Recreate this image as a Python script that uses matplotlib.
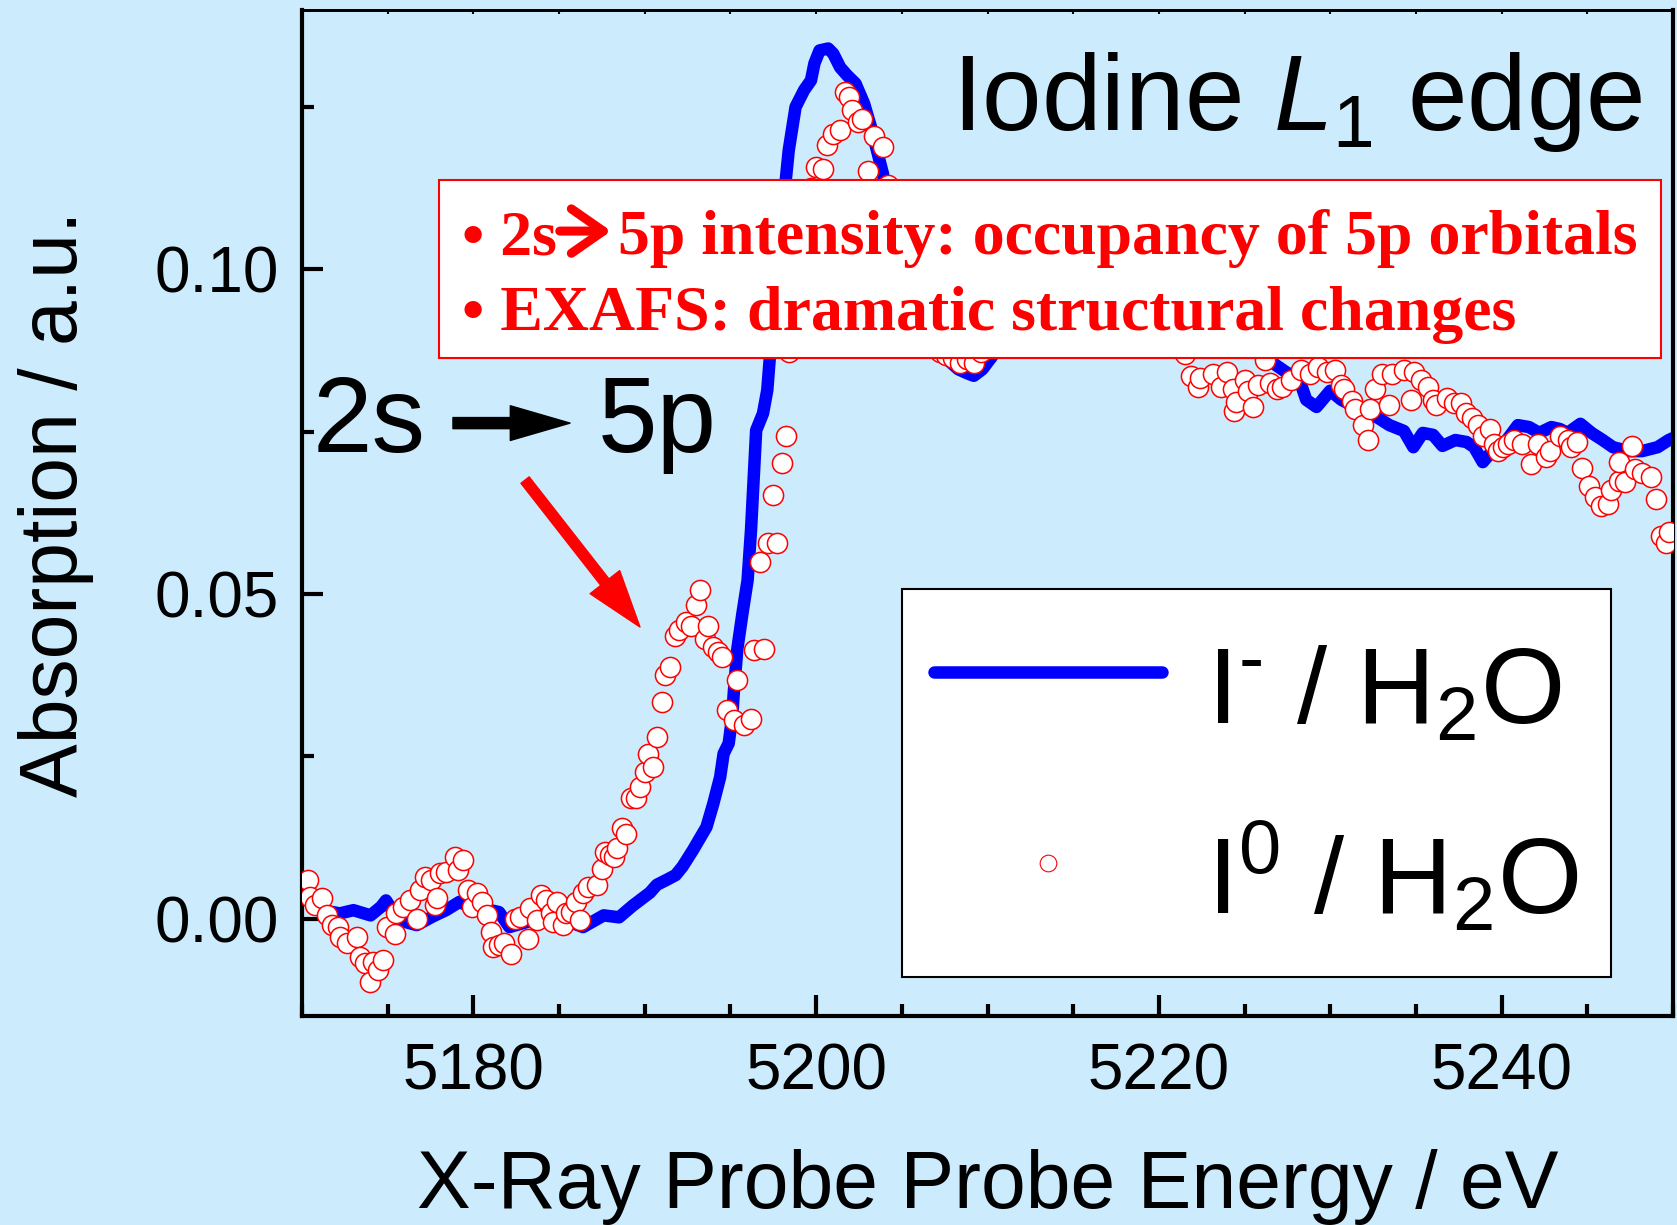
import matplotlib
matplotlib.use("Agg")
import matplotlib.pyplot as plt
from matplotlib.lines import Line2D
from matplotlib.patches import Rectangle
from matplotlib.ticker import MultipleLocator

plt.rcParams['font.family'] = ['Liberation Sans', 'DejaVu Sans']
plt.rcParams['mathtext.fontset'] = 'custom'
plt.rcParams['mathtext.rm'] = 'Liberation Sans'
plt.rcParams['mathtext.it'] = 'Liberation Sans:italic'
plt.rcParams['mathtext.bf'] = 'Liberation Sans:bold'

BG = '#CCEBFC'

# I- / H2O spectrum (eV, absorption)
iodide_energy = [
    5170.0, 5170.5, 5171.2, 5172.2, 5173.0, 5174.0, 5174.6, 5174.9, 5175.5, 5176.0,
    5176.7, 5177.6, 5178.4, 5179.2, 5179.9, 5181.0, 5181.5, 5182.1, 5182.9, 5184.1,
    5185.0, 5185.8, 5186.4, 5187.6, 5188.5, 5189.3, 5190.3, 5190.7, 5191.3, 5191.8,
    5192.2, 5192.8, 5193.6, 5194.0, 5194.4, 5194.6, 5194.9, 5195.1, 5195.2, 5195.4,
    5195.7, 5196.0, 5196.2, 5196.35, 5196.5, 5196.9, 5197.15, 5197.3, 5197.6, 5197.9,
    5198.2, 5198.4, 5198.8, 5199.3, 5199.7, 5199.9, 5200.2, 5200.7, 5201.0, 5201.4,
    5201.8, 5202.3, 5202.8, 5203.2, 5203.6, 5203.9, 5204.3, 5204.8, 5205.3, 5205.8,
    5206.4, 5207.0, 5207.7, 5208.3, 5208.8, 5209.2, 5209.7, 5210.5, 5211.2, 5212.0,
    5213.0, 5214.0, 5215.0, 5216.0, 5217.0, 5218.0, 5219.0, 5220.0, 5221.0, 5222.0,
    5223.0, 5224.0, 5225.0, 5226.0, 5226.8, 5227.4, 5228.2, 5228.6, 5229.2, 5230.0,
    5230.65, 5231.3, 5231.9, 5232.8, 5233.45, 5234.3, 5234.85, 5235.4, 5236.0, 5236.55,
    5237.3, 5237.95, 5238.4, 5238.9, 5239.45, 5240.3, 5240.95, 5241.6, 5242.2, 5242.9,
    5243.4, 5243.85, 5244.6, 5245.25, 5245.9, 5246.5, 5247.4, 5248.2, 5249.1, 5249.75,
    5250.0,
]
iodide_abs = [
    0.0045, 0.0030, 0.0013, 0.0008, 0.0013, 0.0005, 0.0018, 0.0028, 0.0003, -0.0005,
    -0.0010, 0.0003, 0.0013, 0.0026, 0.0016, 0.0013, 0.0010, -0.0013, -0.0007, 0.0003,
    -0.0002, -0.0007, -0.0013, 0.0005, 0.0002, 0.0020, 0.0040, 0.0052, 0.0060, 0.0067,
    0.0080, 0.0105, 0.0141, 0.0177, 0.0218, 0.0254, 0.0270, 0.0311, 0.0350, 0.0415,
    0.0470, 0.0521, 0.0598, 0.0675, 0.0752, 0.0778, 0.0814, 0.0865, 0.0930, 0.1030,
    0.1130, 0.1183, 0.1250, 0.1276, 0.1291, 0.1317, 0.1337, 0.1340, 0.1332, 0.1311,
    0.1299, 0.1286, 0.1255, 0.1219, 0.1178, 0.1147, 0.1080, 0.1010, 0.0950, 0.0910,
    0.0885, 0.0870, 0.0860, 0.0846, 0.0840, 0.0836, 0.0846, 0.0874, 0.0890, 0.0905,
    0.0915, 0.0925, 0.0930, 0.0928, 0.0932, 0.0925, 0.0918, 0.0915, 0.0905, 0.0900,
    0.0895, 0.0885, 0.0880, 0.0870, 0.0853, 0.0842, 0.0830, 0.0799, 0.0788, 0.0813,
    0.0799, 0.0790, 0.0782, 0.0771, 0.0760, 0.0751, 0.0726, 0.0748, 0.0745, 0.0728,
    0.0737, 0.0734, 0.0726, 0.0703, 0.0720, 0.0737, 0.0760, 0.0757, 0.0748, 0.0757,
    0.0754, 0.0748, 0.0762, 0.0748, 0.0737, 0.0726, 0.0720, 0.0720, 0.0726, 0.0737,
    0.0740,
]

# I0 / H2O spectrum (eV, absorption)
iodine_energy = [
    5170.37, 5170.47, 5170.76, 5171.15, 5171.44, 5171.73, 5172.10, 5172.20, 5172.60, 5173.20,
    5173.40, 5173.70, 5173.96, 5174.15, 5174.45, 5174.74, 5174.93, 5175.40, 5175.50, 5175.90,
    5176.30, 5176.70, 5176.90, 5177.20, 5177.50, 5177.75, 5177.85, 5178.04, 5178.40, 5178.90,
    5179.10, 5179.40, 5179.70, 5179.90, 5180.20, 5180.50, 5180.80, 5181.00, 5181.15, 5181.50,
    5181.80, 5182.20, 5182.40, 5182.70, 5183.20, 5183.30, 5183.70, 5183.97, 5184.26, 5184.55,
    5184.65, 5184.85, 5185.20, 5185.40, 5185.70, 5186.00, 5186.20, 5186.40, 5186.70, 5187.20,
    5187.50, 5187.70, 5187.95, 5188.20, 5188.40, 5188.70, 5188.90, 5189.20, 5189.50, 5189.70,
    5190.00, 5190.20, 5190.50, 5190.70, 5191.00, 5191.20, 5191.45, 5191.75, 5192.00, 5192.40,
    5192.70, 5193.00, 5193.20, 5193.50, 5193.70, 5194.00, 5194.30, 5194.50, 5194.80, 5195.20,
    5195.40, 5195.80, 5196.20, 5196.40, 5196.70, 5196.97, 5197.20, 5197.50, 5197.70, 5198.00,
    5198.25, 5198.40, 5198.70, 5199.00, 5199.30, 5199.70, 5200.00, 5200.40, 5200.65, 5201.00,
    5201.40, 5201.70, 5201.90, 5202.10, 5202.45, 5202.70, 5203.00, 5203.40, 5203.90, 5204.20,
    5204.50, 5204.80, 5205.10, 5205.40, 5205.70, 5206.00, 5206.30, 5206.60, 5206.90, 5207.20,
    5207.60, 5208.00, 5208.40, 5208.80, 5209.20, 5209.60, 5210.00, 5210.40, 5210.80, 5211.20,
    5211.60, 5212.00, 5212.40, 5212.80, 5213.20, 5213.60, 5214.00, 5214.40, 5214.80, 5215.20,
    5215.60, 5216.00, 5216.40, 5216.80, 5217.20, 5217.60, 5218.00, 5218.40, 5218.80, 5219.20,
    5219.60, 5220.00, 5220.40, 5220.80, 5221.20, 5221.50, 5221.90, 5222.30, 5222.40, 5223.15,
    5223.60, 5224.00, 5224.35, 5224.40, 5224.50, 5225.00, 5225.20, 5225.50, 5225.80, 5226.20,
    5226.50, 5226.90, 5227.20, 5227.70, 5228.30, 5228.80, 5229.30, 5229.80, 5230.30, 5230.60,
    5230.80, 5231.25, 5231.45, 5231.90, 5232.20, 5232.30, 5232.60, 5233.00, 5233.40, 5233.60,
    5234.30, 5234.70, 5234.90, 5235.30, 5235.70, 5236.00, 5236.20, 5236.80, 5237.20, 5237.65,
    5237.95, 5238.30, 5238.60, 5238.90, 5239.30, 5239.55, 5239.80, 5240.10, 5240.40, 5240.70,
    5241.20, 5241.70, 5242.10, 5242.60, 5242.80, 5243.40, 5243.85, 5244.05, 5244.40, 5244.70,
    5245.10, 5245.45, 5245.80, 5246.20, 5246.40, 5246.85, 5246.85, 5247.20, 5247.60, 5247.80,
    5248.20, 5248.70, 5249.00, 5249.30, 5249.60, 5249.75,
]
iodine_abs = [
    0.0059, 0.0034, 0.0021, 0.0031, 0.0005, -0.0010, -0.0013, -0.0028, -0.0038, -0.0028,
    -0.0059, -0.0069, -0.0097, -0.0067, -0.0079, -0.0064, -0.0013, -0.0023, 0.0008, 0.0018,
    0.0028, 0.0000, 0.0044, 0.0064, 0.0059, 0.0021, 0.0031, 0.0070, 0.0072, 0.0095,
    0.0075, 0.0090, 0.0044, 0.0018, 0.0039, 0.0026, 0.0005, -0.0020, -0.0043, -0.0041,
    -0.0038, -0.0054, 0.0000, 0.0003, -0.0031, 0.0016, -0.0002, 0.0036, 0.0028, 0.0008,
    -0.0005, 0.0026, -0.0010, 0.0008, 0.0010, 0.0026, -0.0002, 0.0039, 0.0049, 0.0052,
    0.0077, 0.0103, 0.0098, 0.0095, 0.0108, 0.0139, 0.0131, 0.0185, 0.0185, 0.0203,
    0.0226, 0.0254, 0.0234, 0.0279, 0.0333, 0.0375, 0.0388, 0.0435, 0.0444, 0.0457,
    0.0450, 0.0483, 0.0506, 0.0431, 0.0450, 0.0418, 0.0411, 0.0403, 0.0321, 0.0306,
    0.0368, 0.0298, 0.0308, 0.0413, 0.0549, 0.0415, 0.0578, 0.0653, 0.0578, 0.0701,
    0.0744, 0.0873, 0.0960, 0.1030, 0.1090, 0.1125, 0.1158, 0.1155, 0.1191, 0.1209,
    0.1214, 0.1273, 0.1265, 0.1245, 0.1227, 0.1232, 0.1152, 0.1206, 0.1188, 0.1130,
    0.1090, 0.1050, 0.1010, 0.0980, 0.0950, 0.0925, 0.0905, 0.0890, 0.0880, 0.0872,
    0.0868, 0.0864, 0.0855, 0.0862, 0.0855, 0.0872, 0.0885, 0.0895, 0.0905, 0.0900,
    0.0915, 0.0920, 0.0910, 0.0925, 0.0930, 0.0920, 0.0935, 0.0940, 0.0930, 0.0945,
    0.0935, 0.0940, 0.0950, 0.0935, 0.0940, 0.0930, 0.0935, 0.0920, 0.0925, 0.0910,
    0.0915, 0.0900, 0.0905, 0.0890, 0.0880, 0.0870, 0.0836, 0.0819, 0.0832, 0.0839,
    0.0819, 0.0842, 0.0816, 0.0782, 0.0796, 0.0830, 0.0813, 0.0788, 0.0822, 0.0860,
    0.0825, 0.0816, 0.0819, 0.0830, 0.0845, 0.0839, 0.0850, 0.0842, 0.0845, 0.0822,
    0.0816, 0.0797, 0.0785, 0.0760, 0.0737, 0.0785, 0.0816, 0.0839, 0.0791, 0.0839,
    0.0845, 0.0799, 0.0842, 0.0830, 0.0819, 0.0799, 0.0791, 0.0802, 0.0794, 0.0794,
    0.0779, 0.0771, 0.0760, 0.0743, 0.0754, 0.0731, 0.0720, 0.0726, 0.0731, 0.0737,
    0.0731, 0.0700, 0.0731, 0.0711, 0.0720, 0.0743, 0.0737, 0.0726, 0.0734, 0.0694,
    0.0666, 0.0649, 0.0635, 0.0638, 0.0660, 0.0674, 0.0703, 0.0672, 0.0728, 0.0692,
    0.0686, 0.0680, 0.0646, 0.0590, 0.0578, 0.0595,
]

fig = plt.figure(figsize=(16.77, 12.25), dpi=100, facecolor=BG)
ax = fig.add_axes([0.1801, 0.1706, 0.8175, 0.8216], facecolor=BG)

ax.plot(iodide_energy, iodide_abs, color='#0000FF', lw=9,
        solid_capstyle='round', solid_joinstyle='round', zorder=2)
ax.plot(iodine_energy, iodine_abs, ls='none', marker='o', ms=14.5,
        mfc='white', mec='#FF0000', mew=1.1, zorder=3)

ax.set_xlim(5170, 5250)
ax.set_ylim(-0.015, 0.14)
ax.xaxis.set_major_locator(MultipleLocator(20))
ax.xaxis.set_minor_locator(MultipleLocator(5))
ax.yaxis.set_major_locator(MultipleLocator(0.05))
ax.yaxis.set_minor_locator(MultipleLocator(0.025))
ax.yaxis.set_major_formatter(lambda v, p: f'{v:.2f}')

ax.tick_params(which='both', direction='in', width=3, labelsize=46)
ax.tick_params(which='major', length=15)
ax.tick_params(which='minor', length=8.5)
ax.tick_params(axis='x', pad=19)
ax.tick_params(axis='y', pad=17)
for side in ['left', 'bottom', 'right']:
    ax.spines[side].set_linewidth(3)
ax.spines['top'].set_linewidth(2)

# short ticks along the top edge
top = ax.secondary_xaxis('top')
top.xaxis.set_major_locator(MultipleLocator(5))
top.tick_params(direction='in', length=3, width=1.5, labeltop=False)
top.spines['top'].set_linewidth(2)

ax.set_xlabel('X-Ray Probe Probe Energy / eV', fontsize=58)
ax.set_ylabel('Absorption / a.u.', fontsize=58)
ax.xaxis.set_label_coords(0.5, -0.132)
ax.yaxis.set_label_coords(-0.152, 0.509)

ax.text(0.9774, 0.880, r'Iodine $L_1$ edge', transform=ax.transAxes,
        fontsize=77, ha='right', va='baseline', zorder=6)

# 2s -> 5p annotation
ax.text(0.008, 0.5604, '2s', transform=ax.transAxes, fontsize=77,
        ha='left', va='baseline', zorder=6)
ax.text(0.2159, 0.5604, '5p', transform=ax.transAxes, fontsize=77,
        ha='left', va='baseline', zorder=6)
ax.annotate('', xy=(0.1955, 0.5891), xytext=(0.1101, 0.5891),
            xycoords='axes fraction', textcoords='axes fraction',
            arrowprops=dict(arrowstyle='simple,head_length=4.3,head_width=2.5,tail_width=0.8',
                            fc='black', ec='black', mutation_scale=10,
                            shrinkA=0, shrinkB=0), zorder=6)
ax.annotate('', xy=(0.2465, 0.3865), xytext=(0.1627, 0.5325),
            xycoords='axes fraction', textcoords='axes fraction',
            arrowprops=dict(arrowstyle='simple,head_length=4.1,head_width=2.7,tail_width=0.75',
                            fc='#FF0000', ec='#FF0000', mutation_scale=10,
                            shrinkA=0, shrinkB=0), zorder=6)

# boxed summary
ax.add_patch(Rectangle((0.0999, 0.6538), 0.8913, 0.1768, transform=ax.transAxes,
                       fc='white', ec='#FF0000', lw=1.5, zorder=5))
serif = ['Liberation Serif', 'DejaVu Serif']
box_font = dict(transform=ax.transAxes, fontsize=46, family=serif, weight='bold',
                color='#FF0000', ha='left', va='baseline', zorder=6)
ax.text(0.1167, 0.7571, '\u2022 2s', **box_font)
ax.annotate('', xy=(0.2255, 0.7799), xytext=(0.1880, 0.7799),
            xycoords='axes fraction', textcoords='axes fraction',
            arrowprops=dict(arrowstyle='->,head_length=2.3,head_width=1.6',
                            color='#FF0000', lw=6.5, mutation_scale=10,
                            shrinkA=0, shrinkB=0), zorder=6)
ax.text(0.2305, 0.7571, '5p intensity: occupancy of 5p orbitals', **box_font)
ax.text(0.1167, 0.6816, '\u2022 EXAFS: dramatic structural changes', **box_font)

handles = [
    Line2D([], [], color='#0000FF', lw=9, solid_capstyle='round'),
    Line2D([], [], ls='none', marker='o', ms=12, mfc='white', mec='#FF0000', mew=0.8),
]
labels = [r'I$^{\text{-}}$ / H$_2$O', r'I$^{0}$ / H$_2$O']
leg = ax.legend(handles, labels, loc='upper left', bbox_to_anchor=(0.4373, 0.4242),
                fontsize=78, frameon=True, fancybox=False, framealpha=1,
                edgecolor='black', borderpad=0.3, borderaxespad=0,
                handlelength=2.1, handleheight=1.5, handletextpad=0.42,
                labelspacing=0.54)
leg.get_frame().set_linewidth(1.5)
leg.set_zorder(7)

fig.savefig('out.png', dpi=100, facecolor=BG)
